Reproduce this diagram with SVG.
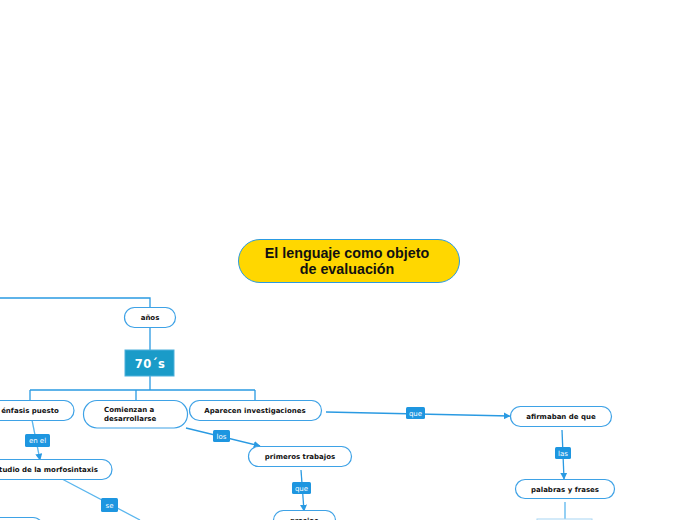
<svg xmlns="http://www.w3.org/2000/svg" width="696" height="520" viewBox="0 0 696 520">
<defs>
<style>
.n{fill:#fff;stroke:#3ea2e6;stroke-width:1.2}
.t{font-family:"DejaVu Sans",Verdana,sans-serif;font-weight:bold;font-size:7px;fill:#111;text-anchor:middle}
.s{text-anchor:start}
.c{fill:none;stroke:#2a9ae2;stroke-width:1.3}
.cl{fill:none;stroke:#5ab6ee;stroke-width:1.3}
.lb{fill:#1e96e0}
.lt{font-family:"DejaVu Sans",Verdana,sans-serif;font-size:7px;fill:#fff;text-anchor:middle}
</style>
<marker id="ah" viewBox="0 0 10 10" refX="9" refY="5" markerWidth="7" markerHeight="7" orient="auto" markerUnits="userSpaceOnUse">
<path d="M0,0L10,5L0,10z" fill="#2a9ae2"/>
</marker>
</defs>
<rect width="696" height="520" fill="#fff"/>
<g id="connectors">
<path class="c" d="M0,298H150V308"/>
<path class="c" d="M150,327V350"/>
<path class="c" d="M150,376V390M30,390H255M30,390V400M136,390V400M255,390V400"/>
<path class="c" d="M326,412L510,416" marker-end="url(#ah)"/>
<path class="c" d="M562,430L564,479" marker-end="url(#ah)"/>
<path class="cl" d="M565,502V520"/>
<path class="cl" d="M32,420L40,460" marker-end="url(#ah)"/>
<path class="cl" d="M62,479L140,520"/>
<path class="c" d="M186,428L260,446" marker-end="url(#ah)"/>
<path class="c" d="M301,470L304,511" marker-end="url(#ah)"/>
<rect class="lb" x="406" y="407" width="19" height="12" rx="1.5"/>
<text class="lt" x="415.5" y="415.5">que</text>
<rect class="lb" x="555" y="447" width="16" height="12" rx="1.5"/>
<text class="lt" x="563" y="455.5">las</text>
<rect class="lb" x="25" y="434" width="25" height="13" rx="1.5"/>
<text class="lt" x="37.5" y="443">en el</text>
<rect class="lb" x="101" y="498" width="17" height="14" rx="1.5"/>
<text class="lt" x="109.5" y="507.5">se</text>
<rect class="lb" x="213" y="430" width="17" height="12" rx="1.5"/>
<text class="lt" x="221.5" y="438.5">los</text>
<rect class="lb" x="292" y="482" width="19" height="12" rx="1.5"/>
<text class="lt" x="301.5" y="490.5">que</text>
</g>
<g id="title">
<rect x="238.5" y="239.5" width="221" height="43" rx="21.5" fill="#ffd700" stroke="#2a9ae2" stroke-width="1"/>
<text x="347" y="258" font-family="Liberation Sans,Arial,sans-serif" font-weight="bold" font-size="14.3" text-anchor="middle" fill="#111">El lenguaje como objeto</text>
<text x="347" y="274" font-family="Liberation Sans,Arial,sans-serif" font-weight="bold" font-size="14.3" text-anchor="middle" fill="#111">de evaluación</text>
</g>
<g id="anos">
<rect class="n" x="124.5" y="307.5" width="51" height="20" rx="10"/>
<text class="t" x="150" y="320">años</text>
</g>
<g id="setenta">
<rect x="125" y="350" width="49" height="26" fill="#1a9bc8" stroke="#4cb0dc" stroke-width="1"/>
<text x="150" y="367.5" font-family="DejaVu Sans,Verdana,sans-serif" font-weight="bold" font-size="11.5" text-anchor="middle" fill="#fff" letter-spacing="0.5">70´s</text>
</g>
<g id="enfasis">
<rect class="n" x="-20" y="400.5" width="94" height="20" rx="10"/>
<text class="t" x="30" y="413">énfasis puesto</text>
</g>
<g id="comienzan">
<rect class="n" x="83.5" y="400.5" width="104" height="27.5" rx="13.5"/>
<text class="t s" x="104" y="412">Comienzan a</text>
<text class="t s" x="104" y="421">desarrollarse</text>
</g>
<g id="aparecen">
<rect class="n" x="189.5" y="400.5" width="132" height="20" rx="10"/>
<text class="t" x="255" y="413">Aparecen investigaciones</text>
</g>
<g id="afirmaban">
<rect class="n" x="510.5" y="406.5" width="101" height="20" rx="10"/>
<text class="t" x="561" y="419">afirmaban de que</text>
</g>
<g id="palabras">
<rect class="n" x="515.5" y="479.5" width="99" height="19" rx="9.5"/>
<text class="t" x="565" y="491.5">palabras y frases</text>
</g>
<g id="morfosintaxis">
<rect class="n" x="-30" y="459.5" width="142" height="20" rx="10"/>
<text class="t" x="44" y="472">estudio de la morfosintaxis</text>
</g>
<g id="primeros">
<rect class="n" x="248.5" y="446.5" width="103" height="20" rx="10"/>
<text class="t" x="300" y="459">primeros trabajos</text>
</g>
<g id="gracias">
<rect class="n" x="273.5" y="510.5" width="62" height="22" rx="10"/>
<text class="t" x="304" y="523">gracias</text>
</g>
<g id="bottomleft">
<rect class="n" x="-40" y="517.5" width="83" height="20" rx="10"/>
</g>
<g id="bottomright">
<rect x="537" y="519" width="55" height="10" fill="#fff" stroke="#a8d6f4" stroke-width="1"/>
</g>
</svg>
